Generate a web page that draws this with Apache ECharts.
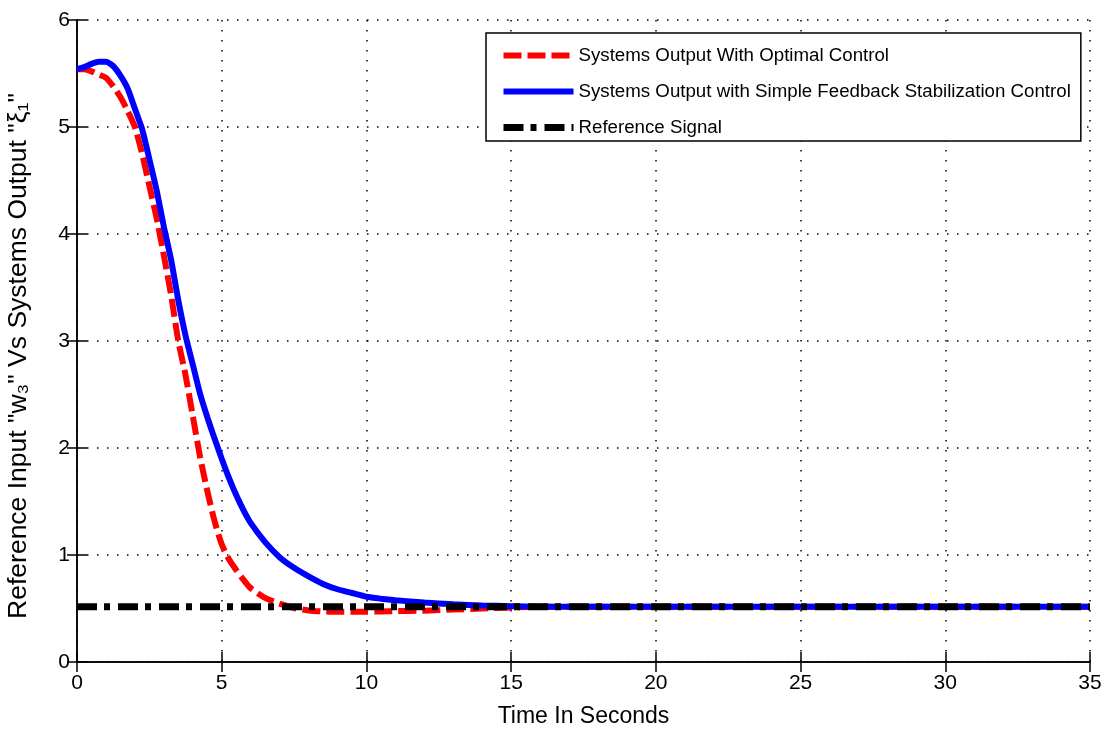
<!DOCTYPE html>
<html>
<head>
<meta charset="utf-8">
<script src="https://cdn.jsdelivr.net/npm/echarts@6/dist/echarts.min.js"></script>
<style>
  html, body { margin: 0; padding: 0; background: #fff; }
  #chart { width: 1108px; height: 731px; }
</style>
</head>
<body>
<div id="chart"></div>
<script>
// Sample times (s) shared by both response curves
const times = [0, 0.25, 0.5, 0.75, 1, 1.25, 1.5, 1.75, 2, 2.25, 2.5, 2.75, 3, 3.25, 3.5, 3.75,
  4, 4.25, 4.5, 4.75, 5, 5.25, 5.5, 5.75, 6, 6.5, 7, 7.5, 8, 8.5, 9, 9.5, 10, 10.5, 11,
  12, 13, 14, 15, 16, 20, 25, 30, 35];

// Output with optimal control
const optimalOutput = [5.54, 5.54, 5.52, 5.49, 5.46, 5.38, 5.28, 5.15, 5.00, 4.75, 4.45, 4.15, 3.80, 3.43, 3.00, 2.68,
  2.30, 1.92, 1.60, 1.32, 1.10, 0.96, 0.86, 0.77, 0.69, 0.60, 0.545, 0.505, 0.482, 0.472, 0.47, 0.47, 0.47, 0.472, 0.475,
  0.48, 0.49, 0.50, 0.51, 0.517, 0.517, 0.517, 0.517, 0.517];

// Output with simple feedback stabilization control
const feedbackOutput = [5.54, 5.56, 5.59, 5.61, 5.61, 5.57, 5.48, 5.36, 5.17, 4.98, 4.70, 4.41, 4.07, 3.76, 3.38, 3.05,
  2.78, 2.51, 2.29, 2.09, 1.90, 1.72, 1.56, 1.42, 1.30, 1.12, 0.98, 0.88, 0.80, 0.73, 0.68, 0.645, 0.61, 0.592, 0.578,
  0.556, 0.54, 0.528, 0.522, 0.517, 0.517, 0.517, 0.517, 0.517];

// Constant reference signal
const refTimes = [0, 35];
const refValues = [0.517, 0.517];

const xTicks = { min: 0, max: 35, interval: 5 };
const yTicks = { min: 0, max: 6, interval: 1 };

const seriesNames = [
  'Systems Output With Optimal Control',
  'Systems Output with Simple Feedback Stabilization Control',
  'Reference Signal'
];

const pairs = (xs, ys) => xs.map((x, i) => [x, ys[i]]);

const labelFont = '"Liberation Sans", Arial, sans-serif';
const titleFont = '"Liberation Sans", Arial, sans-serif';

const chart = echarts.init(document.getElementById('chart'), null, { renderer: 'canvas' });

const frameAxis = {
  axisLine: { show: true, lineStyle: { color: '#000', width: 1.5 } },
  axisTick: { show: true, inside: true, length: 10, lineStyle: { color: '#000', width: 1.5 } }
};

chart.setOption({
  animation: false,
  backgroundColor: '#fff',
  grid: { left: 77, right: 18, top: 20, bottom: 69, containLabel: false, outerBoundsMode: 'none' },
  legend: {
    orient: 'vertical',
    left: 486,
    top: 33,
    padding: [13, 10, 4, 14],
    itemWidth: 70,
    itemHeight: 18,
    itemGap: 17,
    backgroundColor: '#fff',
    borderColor: '#000',
    borderWidth: 1.5,
    borderRadius: 0,
    itemStyle: { opacity: 0 },
    lineStyle: { width: 'inherit', type: 'inherit' },
    textStyle: { fontFamily: labelFont, fontSize: 18.7, color: '#000' },
    data: seriesNames
  },
  xAxis: [
    {
      type: 'value', position: 'bottom', ...xTicks,
      ...frameAxis,
      axisLabel: { color: '#000', fontFamily: labelFont, fontSize: 21, margin: 11 },
      splitLine: { show: true, lineStyle: { color: '#000', width: 1.5, type: [1.5, 8.5] } },
      name: 'Time In Seconds',
      nameLocation: 'middle',
      nameGap: 43,
      nameTextStyle: { color: '#000', fontFamily: titleFont, fontSize: 23 }
    },
    {
      type: 'value', position: 'top', ...xTicks,
      ...frameAxis,
      axisLabel: { show: false },
      splitLine: { show: false }
    }
  ],
  yAxis: [
    {
      type: 'value', position: 'left', ...yTicks,
      ...frameAxis,
      axisLabel: { color: '#000', fontFamily: labelFont, fontSize: 21, margin: 7 },
      splitLine: { show: true, lineStyle: { color: '#000', width: 1.5, type: [1.5, 8.5] } },
      name: 'Reference Input "w\u2083" Vs Systems Output "\u03BE\u2081"',
      nameLocation: 'middle',
      nameGap: 45,
      nameRotate: 90,
      nameTextStyle: { color: '#000', fontFamily: titleFont, fontSize: 26.5, padding: [0, 30, 0, 0] }
    },
    {
      type: 'value', position: 'right', ...yTicks,
      ...frameAxis,
      axisLabel: { show: false },
      splitLine: { show: false }
    }
  ],
  series: [
    {
      name: seriesNames[0],
      type: 'line',
      data: pairs(times, optimalOutput),
      symbol: 'none',
      smooth: 0.2,
      lineStyle: { color: '#ff0000', width: 6, type: [18, 6] },
      itemStyle: { color: '#ff0000' },
      z: 2
    },
    {
      name: seriesNames[1],
      type: 'line',
      data: pairs(times, feedbackOutput),
      symbol: 'none',
      smooth: 0.2,
      lineStyle: { color: '#0000ff', width: 6, type: 'solid' },
      itemStyle: { color: '#0000ff' },
      z: 3
    },
    {
      name: seriesNames[2],
      type: 'line',
      data: pairs(refTimes, refValues),
      symbol: 'none',
      lineStyle: { color: '#000000', width: 7, type: [20, 7, 6, 8] },
      itemStyle: { color: '#000000' },
      z: 4
    }
  ]
});
</script>
</body>
</html>
